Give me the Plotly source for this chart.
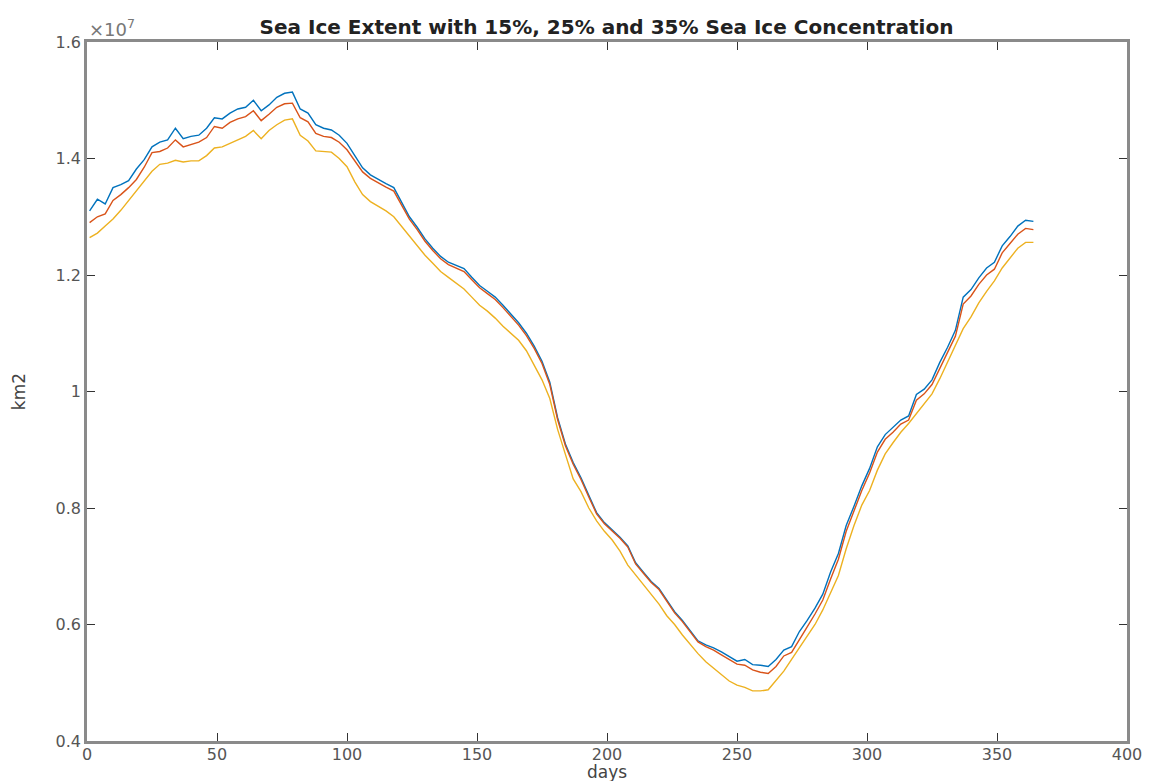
import plotly.graph_objects as go

# day of year (sampled every 3 days)
days = list(range(1, 366, 3))

# Sea ice extent, units of 1e7 km2
ext_15 = [1.310, 1.330, 1.322, 1.350, 1.355, 1.362, 1.382, 1.398, 1.420, 1.428,
          1.432, 1.452, 1.434, 1.438, 1.440, 1.452, 1.470, 1.468, 1.478, 1.485,
          1.488, 1.500, 1.482, 1.492, 1.505, 1.512, 1.514, 1.485, 1.478, 1.458,
          1.452, 1.449, 1.440, 1.426, 1.405, 1.384, 1.372, 1.364, 1.357, 1.350,
          1.325, 1.300, 1.282, 1.262, 1.246, 1.232, 1.222, 1.216, 1.211, 1.196,
          1.182, 1.172, 1.162, 1.148, 1.133, 1.118, 1.100, 1.078, 1.052, 1.016,
          0.955, 0.910, 0.878, 0.852, 0.822, 0.792, 0.775, 0.762, 0.750, 0.735,
          0.706, 0.690, 0.674, 0.662, 0.643, 0.622, 0.607, 0.590, 0.572, 0.565,
          0.560, 0.553, 0.545, 0.537, 0.540, 0.531, 0.530, 0.528, 0.540, 0.556,
          0.562, 0.588, 0.607, 0.628, 0.652, 0.690, 0.722, 0.770, 0.803, 0.838,
          0.868, 0.905, 0.926, 0.938, 0.951, 0.958, 0.995, 1.004, 1.020, 1.050,
          1.076, 1.105, 1.162, 1.175, 1.195, 1.212, 1.222, 1.250, 1.266, 1.284,
          1.294, 1.292]

ext_25 = [1.290, 1.300, 1.305, 1.328, 1.338, 1.350, 1.364, 1.385, 1.410, 1.412,
          1.418, 1.432, 1.420, 1.424, 1.428, 1.436, 1.455, 1.452, 1.462, 1.468,
          1.472, 1.482, 1.465, 1.476, 1.488, 1.494, 1.495, 1.470, 1.463, 1.443,
          1.438, 1.436, 1.428, 1.415, 1.396, 1.377, 1.366, 1.358, 1.351, 1.344,
          1.320, 1.296, 1.278, 1.258, 1.242, 1.228, 1.218, 1.212, 1.206, 1.192,
          1.178, 1.168, 1.158, 1.144, 1.129, 1.114, 1.096, 1.074, 1.048, 1.012,
          0.952, 0.907, 0.875, 0.849, 0.819, 0.790, 0.773, 0.760, 0.748, 0.733,
          0.704, 0.688, 0.672, 0.660, 0.641, 0.620, 0.605, 0.588, 0.570, 0.562,
          0.556, 0.548, 0.540, 0.532, 0.530, 0.522, 0.518, 0.516, 0.528, 0.546,
          0.552, 0.575, 0.596, 0.618, 0.642, 0.678, 0.712, 0.760, 0.795, 0.830,
          0.860, 0.896, 0.918, 0.930, 0.944, 0.951, 0.985, 0.996, 1.012, 1.040,
          1.066, 1.095, 1.150, 1.164, 1.184, 1.200, 1.210, 1.238, 1.254, 1.270,
          1.280, 1.278]

ext_35 = [1.264, 1.272, 1.284, 1.296, 1.311, 1.328, 1.345, 1.362, 1.378, 1.390,
          1.392, 1.397, 1.394, 1.396, 1.396, 1.405, 1.418, 1.420, 1.426, 1.432,
          1.438, 1.448, 1.434, 1.448, 1.458, 1.466, 1.468, 1.440, 1.430, 1.413,
          1.412, 1.411, 1.400, 1.386, 1.360, 1.338, 1.326, 1.318, 1.310, 1.300,
          1.283, 1.266, 1.250, 1.234, 1.220, 1.206, 1.196, 1.186, 1.176, 1.162,
          1.148, 1.138, 1.126, 1.112, 1.100, 1.088, 1.070, 1.045, 1.020, 0.988,
          0.935, 0.892, 0.850, 0.828, 0.800, 0.778, 0.760, 0.745, 0.726, 0.702,
          0.685, 0.668, 0.652, 0.635, 0.615, 0.600, 0.582, 0.565, 0.550, 0.536,
          0.525, 0.514, 0.503, 0.496, 0.492, 0.486, 0.486, 0.488, 0.505, 0.520,
          0.540, 0.560, 0.578, 0.600, 0.625, 0.655, 0.684, 0.730, 0.770, 0.805,
          0.830, 0.865, 0.893, 0.912, 0.930, 0.945, 0.962, 0.978, 0.996, 1.022,
          1.050, 1.078, 1.108, 1.128, 1.152, 1.172, 1.190, 1.212, 1.228, 1.246,
          1.256, 1.256]

series_names = ["15%", "25%", "35%"]
series_colors = ["#0072BD", "#D95319", "#EDB120"]

x_tickvals = [0, 50, 100, 150, 200, 250, 300, 350, 400]
y_tickvals = [0.4, 0.6, 0.8, 1.0, 1.2, 1.4, 1.6]
y_ticktext = ["0.4", "0.6", "0.8", "1", "1.2", "1.4", "1.6"]

fig = go.Figure()
for name, vals, col in zip(series_names, [ext_15, ext_25, ext_35], series_colors):
    fig.add_trace(go.Scatter(x=days, y=vals, mode="lines", name=name,
                             line=dict(color=col, width=1.4)))

font_family = "DejaVu Sans, Liberation Sans, Arial, sans-serif"
axis_common = dict(showline=True, linecolor="#8a8a8a", linewidth=2.5, mirror="ticks",
                   ticks="inside", ticklen=8, tickwidth=1.3, tickcolor="#333333",
                   showgrid=False, zeroline=False, automargin=False,
                   tickfont=dict(family=font_family, size=16, color="#555555"))

fig.update_layout(
    width=1153, height=781,
    margin=dict(l=87, r=26, t=42, b=40),
    paper_bgcolor="white", plot_bgcolor="white",
    showlegend=False,
    title=dict(text="<b>Sea Ice Extent with 15%, 25% and 35% Sea Ice Concentration</b>",
               x=0.526, xanchor="center", y=0.966, yanchor="middle",
               font=dict(family=font_family, size=20, color="#222222")),
    xaxis=dict(range=[0, 400], tickvals=x_tickvals, ticklabelstandoff=-3,
               **axis_common),
    yaxis=dict(range=[0.4, 1.6], tickvals=y_tickvals, ticktext=y_ticktext,
               title=dict(text="km2", standoff=26,
                          font=dict(family=font_family, size=17, color="#444444")),
               **axis_common),
)

fig.add_annotation(text="days", xref="paper", yref="paper",
                   x=0.5, y=-0.044, xanchor="center", yanchor="middle", showarrow=False,
                   font=dict(family=font_family, size=17, color="#444444"))

fig.add_annotation(text="\u00d710<sup>7</sup>", xref="paper", yref="paper",
                   x=0.0, y=1.0, xanchor="left", yanchor="bottom", showarrow=False,
                   font=dict(family=font_family, size=18, color="#777777"))

fig.write_html("out.html")
